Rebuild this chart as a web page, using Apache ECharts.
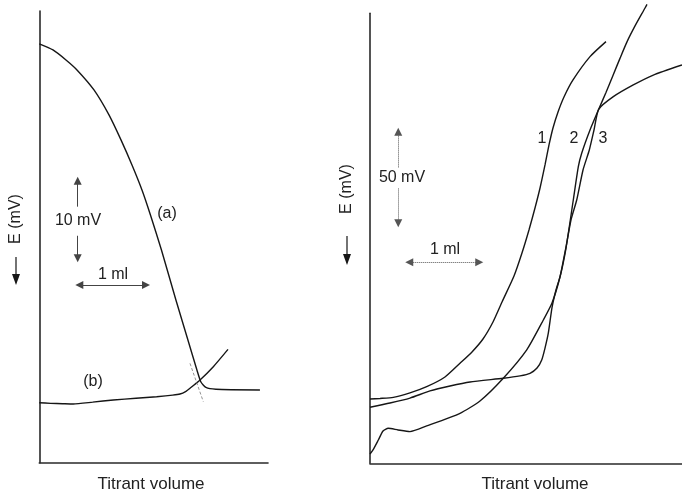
<!DOCTYPE html>
<html><head><meta charset="utf-8">
<script src="https://cdn.jsdelivr.net/npm/echarts@6/dist/echarts.min.js"></script>
<style>html,body{margin:0;padding:0;background:#fff}#c{width:682px;height:491px}</style>
</head><body><div id="c"></div>
<script>
// ---- Left panel: titrant volume (ml) vs E (mV, relative) ----
const curveA_ml = [0, 0.205, 0.4, 0.565, 0.82, 1.045, 1.225, 1.39, 1.54, 1.667, 1.832, 2.049, 2.229, 2.364, 2.424, 2.499, 2.649, 3.309];
const curveA_mV = [53.96, 53.18, 51.89, 50.61, 48.03, 44.81, 41.59, 38.36, 35.14, 31.92, 27.41, 20.97, 15.81, 11.95, 10.4, 9.69, 9.46, 9.37];
const curveB_ml = [0, 0.17, 0.35, 0.51, 0.8, 1.11, 1.45, 1.76, 2.0, 2.11, 2.2, 2.26, 2.41, 2.61, 2.83];
const curveB_mV = [7.73, 7.65, 7.6, 7.56, 7.8, 8.08, 8.3, 8.5, 8.7, 8.85, 9.2, 9.59, 10.66, 12.37, 14.6];
const extrapA_ml = [2.26, 2.46];
const extrapA_mV = [12.8, 7.86];

// ---- Right panel ----
const curve1_ml = [0, 0.143, 0.333, 0.571, 0.81, 1.071, 1.286, 1.457, 1.614, 1.757, 1.886, 2.057, 2.171, 2.271, 2.357, 2.429, 2.5, 2.557, 2.614, 2.686, 2.771, 2.9, 3.143, 3.371];
const curve1_mV = [35.1, 35.4, 36.0, 38.4, 41.8, 47.1, 54.6, 60.8, 67.85, 77.13, 88.05, 102.24, 114.79, 127.35, 139.36, 150.27, 162.83, 173.74, 183.02, 191.76, 199.95, 209.23, 221.94, 230.13];
const curve2_ml = [0, 0.043, 0.119, 0.186, 0.261, 0.4, 0.571, 0.81, 1.286, 1.571, 1.904, 2.239, 2.476, 2.6, 2.714, 2.8, 2.904, 2.976, 3.024, 3.143, 3.267, 3.371, 3.471, 3.571, 3.671, 3.786, 3.929, 3.957];
const curve2_mV = [5.1, 7.3, 12.7, 17.6, 19.1, 18.2, 17.3, 20.4, 27.3, 34.0, 46.4, 61.9, 78.2, 87.5, 101.7, 117.5, 143.7, 161.9, 169.2, 181.9, 193.2, 202.4, 211.7, 221.0, 230.0, 238.7, 248.5, 250.5];
const curve3_ml = [0, 0.286, 0.571, 0.857, 1.143, 1.429, 1.904, 2.143, 2.286, 2.386, 2.453, 2.5, 2.547, 2.6, 2.657, 2.714, 2.81, 2.871, 2.953, 3.043, 3.133, 3.2, 3.267, 3.476, 3.761, 4.047, 4.457];
const curve3_mV = [30.6, 32.9, 35.6, 39.5, 42.2, 44.4, 46.4, 47.7, 49.1, 52.0, 56.4, 62.9, 71.0, 85.0, 94.6, 101.7, 120.1, 132.8, 143.7, 160.1, 171.0, 181.9, 193.2, 200.1, 206.5, 211.9, 217.4];

// scale bars: [left panel, right panel]
const scaleBar_mV = [10, 50];
const scaleBar_ml = [1, 1];
const curveLabels = ['(a)', '(b)', '1', '2', '3'];
const axisTitleX = 'Titrant volume';
const axisTitleY = 'E (mV)';

const zip = (xs, ys) => xs.map((x, i) => [x, ys[i]]);
const FONT = '16px "Liberation Sans", Arial, sans-serif';
const FONT_T = '17px "Liberation Sans", Arial, sans-serif';
const INK = '#161616';
const TXT = '#222';

function curve(name, xs, ys, idx, extra) {
  return Object.assign({
    name, type: 'line', xAxisIndex: idx, yAxisIndex: idx,
    data: zip(xs, ys), showSymbol: false, symbol: 'none', smooth: 0.2,
    clip: false, silent: true,
    lineStyle: { color: INK, width: 1.4 }
  }, extra || {});
}
function bar(p1, p2, syms, dotted) {
  return [{ coord: p1, symbol: syms[0], lineStyle: { type: dotted ? 'dotted' : 'solid' } },
          { coord: p2, symbol: syms[1] }];
}
function txt(text, x, y, rot, font) {
  return { type: 'text', x, y, rotation: rot || 0,
    style: { text, font: font || FONT, fill: TXT, align: 'center', verticalAlign: 'middle' } };
}

// scale-bar anchors (data units)
const Lx = 0.576, LyTop = 36.34, LyBot = LyTop - scaleBar_mV[0];
const Lhx = 0.6, Lhy = 22.9;
const Rx = 0.404, RyTop = 181.0, RyBot = RyTop - scaleBar_mV[1];
const Rhx = 0.561, Rhy = 109.7;

const chart = echarts.init(document.getElementById('c'), null, { renderer: 'canvas' });
const axisLine = { show: true, lineStyle: { color: '#2a2a2a', width: 1.6 } };
const hidden = { axisTick: { show: false }, axisLabel: { show: false }, splitLine: { show: false } };

chart.setOption({
  animation: false,
  backgroundColor: '#fff',
  grid: [
    { left: 39.3, top: 11, width: 228.7, height: 451.7 },
    { left: 370, top: 13.3, width: 312, height: 450 }
  ],
  xAxis: [
    Object.assign({ type: 'value', gridIndex: 0, min: 0, max: 3.43, axisLine }, hidden),
    Object.assign({ type: 'value', gridIndex: 1, min: 0, max: 4.457, axisLine }, hidden)
  ],
  yAxis: [
    Object.assign({ type: 'value', gridIndex: 0, min: 0, max: 58.2, axisLine }, hidden),
    Object.assign({ type: 'value', gridIndex: 1, min: 0, max: 245.6, axisLine }, hidden)
  ],
  series: [
    curve('a', curveA_ml, curveA_mV, 0, {
      markLine: {
        silent: true, animation: false, symbolSize: 8, label: { show: false },
        lineStyle: { color: '#444', width: 1 },
        data: [
          bar([Lx, LyTop - 3.35], [Lx, LyTop], ['none', 'triangle']),
          bar([Lx, LyBot + 2.9], [Lx, LyBot], ['none', 'triangle']),
          bar([Lhx, Lhy], [Lhx + scaleBar_ml[0], Lhy], ['triangle', 'triangle'])
        ]
      }
    }),
    curve('b', curveB_ml, curveB_mV, 0),
    curve('extrap', extrapA_ml, extrapA_mV, 0, { smooth: false, lineStyle: { color: '#777', width: 0.8, type: [3, 2] } }),
    curve('1', curve1_ml, curve1_mV, 1, {
      markLine: {
        silent: true, animation: false, symbolSize: 8, label: { show: false },
        lineStyle: { color: '#555', width: 1 },
        data: [
          bar([Rx, RyTop - 19.5], [Rx, RyTop], ['none', 'triangle'], true),
          bar([Rx, RyBot + 19], [Rx, RyBot], ['none', 'triangle'], true),
          bar([Rhx, Rhy], [Rhx + scaleBar_ml[1], Rhy], ['triangle', 'triangle'], true)
        ]
      }
    }),
    curve('2', curve2_ml, curve2_mV, 1),
    curve('3', curve3_ml, curve3_mV, 1)
  ],
  graphic: [
    txt(curveLabels[0], 167, 214),
    txt(curveLabels[1], 93, 382),
    txt(curveLabels[2], 542, 139),
    txt(curveLabels[3], 574, 139),
    txt(curveLabels[4], 603, 139),
    txt(scaleBar_mV[0] + ' mV', 78, 221),
    txt(scaleBar_ml[0] + ' ml', 113, 275),
    txt(scaleBar_mV[1] + ' mV', 402, 178),
    txt(scaleBar_ml[1] + ' ml', 445, 250),
    txt(axisTitleX, 151, 484, 0, FONT_T),
    txt(axisTitleX, 535, 484, 0, FONT_T),
    txt(axisTitleY, 16, 219, Math.PI / 2),
    txt(axisTitleY, 347, 189, Math.PI / 2),
    { type: 'line', shape: { x1: 16, y1: 257, x2: 16, y2: 276 }, style: { stroke: INK, lineWidth: 1.2 } },
    { type: 'polygon', shape: { points: [[12, 274], [20, 274], [16, 285]] }, style: { fill: INK } },
    { type: 'line', shape: { x1: 347, y1: 236, x2: 347, y2: 256 }, style: { stroke: INK, lineWidth: 1.2 } },
    { type: 'polygon', shape: { points: [[343, 254], [351, 254], [347, 265]] }, style: { fill: INK } }
  ]
});
</script>
</body></html>
